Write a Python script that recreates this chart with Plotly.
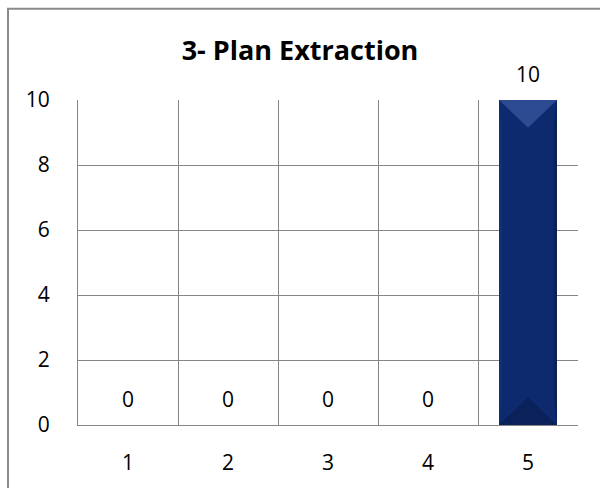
import plotly.graph_objects as go

categories = [1, 2, 3, 4, 5]
values = [0, 0, 0, 0, 10]
y_ticks = [0, 2, 4, 6, 8, 10]
title_text = "3- Plan Extraction"

FONT = "Open Sans"
BAR_W = 0.58
W, H = 600, 488
ML, MR, MT, MB = 78, 22, 100, 60
plot_h = H - MT - MB
y_max = 10
units_per_px = y_max / plot_h
bevel = 28 * units_per_px

fig = go.Figure()
fig.add_trace(go.Bar(
    x=categories, y=values, width=BAR_W,
    marker=dict(color="#0d2a6e", line=dict(width=0)),
    hoverinfo="skip", showlegend=False,
))

# bevel overlays derived from the data
for c, v in zip(categories, values):
    if v <= 0:
        continue
    x0, x1 = c - BAR_W / 2, c + BAR_W / 2
    d = min(bevel, v / 2)
    fig.add_trace(go.Scatter(
        x=[x0, x1, c, x0], y=[v, v, v - d, v], mode="lines", fill="toself",
        fillcolor="#2c4b92", line=dict(width=0), hoverinfo="skip", showlegend=False))
    fig.add_trace(go.Scatter(
        x=[x0, x1, c, x0], y=[0, 0, d, 0], mode="lines", fill="toself",
        fillcolor="#0a2259", line=dict(width=0), hoverinfo="skip", showlegend=False))
    fig.add_trace(go.Scatter(
        x=[x1 - 0.035, x1, x1, x1 - 0.035, x1 - 0.035], y=[d, 0, v, v - d, d],
        mode="lines", fill="toself", fillcolor="#0a2258", line=dict(width=0),
        hoverinfo="skip", showlegend=False))
    fig.add_trace(go.Scatter(
        x=[x0, x0 + 0.03, x0 + 0.03, x0, x0], y=[0, d, v - d, v, 0],
        mode="lines", fill="toself", fillcolor="#12307a", line=dict(width=0),
        hoverinfo="skip", showlegend=False))

for c, v in zip(categories, values):
    fig.add_annotation(x=c, y=v, text=str(v), showarrow=False, yshift=26,
                       yanchor="middle", font=dict(family=FONT, size=21, color="#000"))

fig.update_layout(
    width=W, height=H,
    margin=dict(l=ML, r=MR, t=MT, b=MB),
    paper_bgcolor="white", plot_bgcolor="white",
    title=dict(text="<b>" + title_text + "</b>", x=0.5, xanchor="center",
               y=1 - 51 / H, yanchor="middle",
               font=dict(family=FONT, size=27, color="#000")),
    font=dict(family=FONT, size=21, color="#000"),
    xaxis=dict(range=[0.5, 5.5], tickvals=categories, ticktext=[str(c) for c in categories],
               showgrid=False, zeroline=False, showline=True, linecolor="#868686", linewidth=1,
               ticks="", ticklabelstandoff=19, fixedrange=True,
               minor=dict(tickvals=[c + 0.5 for c in categories], showgrid=True,
                          gridcolor="#868686", gridwidth=1, ticks="")),
    yaxis=dict(range=[0, y_max], tickvals=y_ticks, showgrid=True, gridcolor="#868686",
               gridwidth=1, zeroline=False, showline=True, linecolor="#868686", linewidth=1,
               ticks="", ticklabelstandoff=23, fixedrange=True),
    shapes=[dict(type="rect", xref="paper", yref="paper",
                 x0=-(ML - 8) / (W - ML - MR), x1=(W - ML + 10) / (W - ML - MR),
                 y0=-(MB + 10) / plot_h, y1=1 + (MT - 8) / plot_h,
                 line=dict(color="#8a8a8a", width=2), layer="below")],
)

fig.write_html("out.html")
